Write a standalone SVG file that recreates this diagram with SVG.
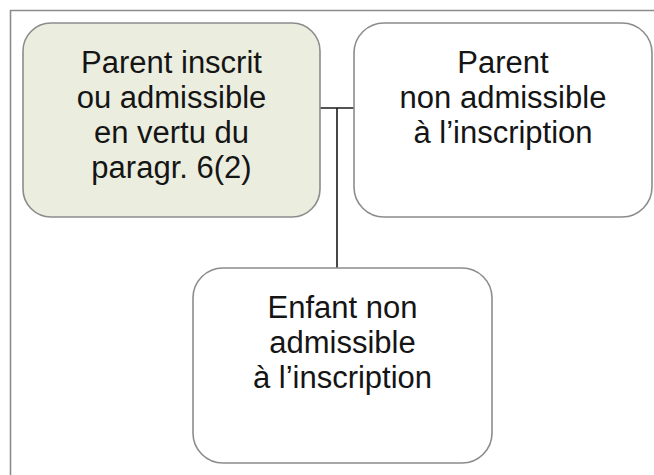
<svg xmlns="http://www.w3.org/2000/svg" width="654" height="475" viewBox="0 0 654 475">
<style>
.box{stroke:#8c8c8c;stroke-width:1.6}
.lbl{font-family:"Liberation Sans",Arial,sans-serif;font-size:31px;fill:#151515;text-anchor:middle}
.con{stroke:#1a1a1a;stroke-width:1.6;fill:none}
</style>
<rect width="654" height="475" fill="#ffffff"/>
<path id="frame" d="M10.5,480 V10.5 H660" fill="none" stroke="#8c8c8c" stroke-width="1.6"/>
<g id="connectors">
<path class="con" d="M320,108 H354"/>
<path class="con" d="M337,108 V268"/>
</g>
<g id="node-parent-inscrit">
<rect class="box" x="23" y="23" width="297" height="194" rx="28" fill="#ebeedf"/>
<text class="lbl" x="171.5" y="73">Parent inscrit</text>
<text class="lbl" x="171.5" y="108">ou admissible</text>
<text class="lbl" x="171.5" y="143">en vertu du</text>
<text class="lbl" x="171.5" y="178">paragr. 6(2)</text>
</g>
<g id="node-parent-non-admissible">
<rect class="box" x="354" y="23" width="298" height="194" rx="30" fill="#ffffff"/>
<text class="lbl" x="503" y="73">Parent</text>
<text class="lbl" x="503" y="108">non admissible</text>
<text class="lbl" x="503" y="142.5">à l’inscription</text>
</g>
<g id="node-enfant">
<rect class="box" x="193" y="268" width="299" height="195" rx="30" fill="#ffffff"/>
<text class="lbl" x="342.5" y="318">Enfant non</text>
<text class="lbl" x="342.5" y="353">admissible</text>
<text class="lbl" x="342.5" y="388">à l’inscription</text>
</g>
</svg>
